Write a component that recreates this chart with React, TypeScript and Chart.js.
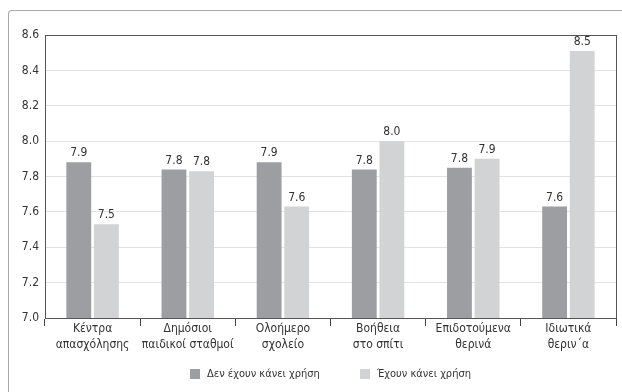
import { useEffect, useRef } from "react";
import { Chart, registerables } from "chart.js";

Chart.register(...registerables);

const categories: string[][] = [
  ["Κέντρα", "απασχόλησης"],
  ["Δημόσιοι", "παιδικοί σταθμοί"],
  ["Ολοήμερο", "σχολείο"],
  ["Βοήθεια", "στο σπίτι"],
  ["Επιδοτούμενα", "θερινά"],
  ["Ιδιωτικά", "θεριν΄α"],
];

const seriesNames = ["Δεν έχουν κάνει χρήση", "Έχουν κάνει χρήση"];
const notUsed = [7.88, 7.84, 7.88, 7.84, 7.849, 7.63];
const used = [7.53, 7.83, 7.63, 8.0, 7.9, 8.51];

const yMin = 7.0;
const yMax = 8.6;
const yStep = 0.2;

const FONT = "'Liberation Sans Narrow', 'DejaVu Sans Condensed', 'Arial Narrow', sans-serif";
const DARK = "#9d9ea2";
const LIGHT = "#d2d3d5";
const TEXT = "#333333";

// Value labels above the bars, a frame round the plot area,
// and a legend row centred under the plot.
const decorations = {
  id: "decorations",
  afterDatasetsDraw(chart: any) {
    const { ctx, chartArea } = chart;
    ctx.save();
    ctx.strokeStyle = "#555555";
    ctx.lineWidth = 1;
    ctx.strokeRect(
      Math.round(chartArea.left) + 0.5,
      Math.round(chartArea.top) + 0.5,
      Math.round(chartArea.right - chartArea.left),
      Math.round(chartArea.bottom - chartArea.top)
    );
    ctx.font = `12px ${FONT}`;
    ctx.fillStyle = TEXT;
    ctx.textAlign = "center";
    ctx.textBaseline = "bottom";
    chart.data.datasets.forEach((ds: any, i: number) => {
      const meta = chart.getDatasetMeta(i);
      meta.data.forEach((bar: any, j: number) => {
        const v = ds.data[j] as number;
        ctx.fillText(v.toFixed(1), bar.x, bar.y - 3);
      });
    });
    ctx.restore();
  },
  afterDraw(chart: any) {
    const { ctx, chartArea } = chart;
    const box = 10;
    const boxGap = 7;
    const itemGap = 40;
    const y = 374;
    ctx.save();
    ctx.font = `11px ${FONT}`;
    ctx.textBaseline = "middle";
    ctx.textAlign = "left";
    const items = chart.data.datasets.map((ds: any) => ({
      text: ds.label as string,
      color: ds.backgroundColor as string,
      w: box + boxGap + ctx.measureText(ds.label).width,
    }));
    const total =
      items.reduce((s: number, it: any) => s + it.w, 0) + itemGap * (items.length - 1);
    let x = (chartArea.left + chartArea.right) / 2 - total / 2;
    items.forEach((it: any) => {
      ctx.fillStyle = it.color;
      ctx.fillRect(Math.round(x), y - box / 2, box, box);
      ctx.fillStyle = TEXT;
      ctx.fillText(it.text, x + box + boxGap, y);
      x += it.w + itemGap;
    });
    ctx.restore();
  },
};

export default function App() {
  const canvasRef = useRef<HTMLCanvasElement | null>(null);

  useEffect(() => {
    if (!canvasRef.current) return;
    const chart = new Chart(canvasRef.current, {
      type: "bar",
      data: {
        labels: categories,
        datasets: [
          {
            label: seriesNames[0],
            data: notUsed,
            backgroundColor: DARK,
            categoryPercentage: 0.58,
            barPercentage: 0.9,
          },
          {
            label: seriesNames[1],
            data: used,
            backgroundColor: LIGHT,
            categoryPercentage: 0.58,
            barPercentage: 0.9,
          },
        ],
      },
      options: {
        animation: false,
        responsive: false,
        maintainAspectRatio: false,
        layout: { padding: { left: 8, right: 6, top: 35, bottom: 32 } },
        plugins: {
          tooltip: { enabled: false },
          legend: { display: false },
        },
        scales: {
          x: {
            grid: {
              offset: true,
              drawOnChartArea: false,
              drawTicks: true,
              tickLength: 8,
              color: "#444444",
            },
            border: { color: "#555555" },
            ticks: {
              color: TEXT,
              font: { family: FONT, size: 12, lineHeight: 1.35 },
              padding: -5,
              maxRotation: 0,
              autoSkip: false,
            },
            afterFit(scale: any) {
              scale.height = 42;
            },
          },
          y: {
            min: yMin,
            max: yMax,
            grid: { color: "#e2e2e2", drawTicks: false },
            border: { color: "#555555" },
            ticks: {
              stepSize: yStep,
              color: TEXT,
              padding: 6,
              font: { family: FONT, size: 12 },
              callback: (v: any) => Number(v).toFixed(1),
            },
            afterFit(scale: any) {
              scale.width = 37;
            },
          },
        },
      },
      plugins: [decorations],
    });
    return () => chart.destroy();
  }, []);

  return (
    <>
      <div
        style={{
          position: "fixed",
          left: 8,
          top: 10,
          width: 614,
          height: 382,
          borderTop: "1px solid #aaaaaa",
          borderLeft: "1px solid #aaaaaa",
          borderTopLeftRadius: 4,
          boxSizing: "border-box",
        }}
      />
      <canvas
        ref={canvasRef}
        width={622}
        height={392}
        style={{ position: "fixed", left: 0, top: 0, width: 622, height: 392 }}
      />
    </>
  );
}
